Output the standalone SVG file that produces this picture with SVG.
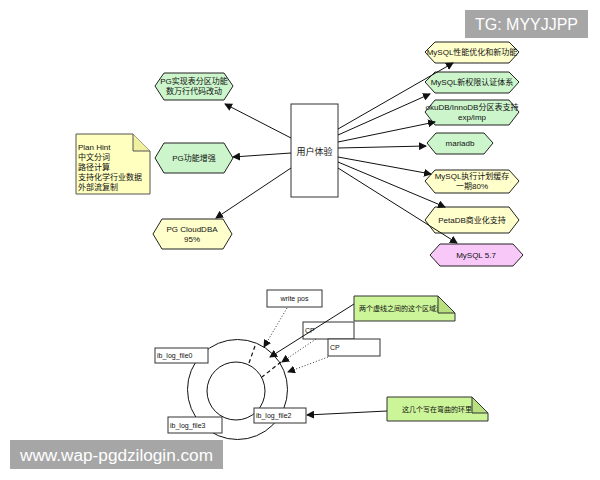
<svg xmlns="http://www.w3.org/2000/svg" width="600" height="480" viewBox="0 0 600 480">
<style>
text{font-family:"Liberation Sans","Noto Sans CJK SC",sans-serif;font-size:8px;fill:#111}
.c{text-anchor:middle}
.hy{fill:#ffffcc;stroke:#222;stroke-width:1}
.hg{fill:#ccf5cc;stroke:#222;stroke-width:1}
.hp{fill:#f8c8f8;stroke:#222;stroke-width:1}
.box{fill:#fff;stroke:#333;stroke-width:1}
.ln{stroke:#111;stroke-width:1;fill:none}
.dot{stroke:#333;stroke-width:1;stroke-dasharray:1,2;fill:none}
.dash{stroke:#111;stroke-width:1.2;stroke-dasharray:4,3;fill:none}
.ng{fill:#ccf599;stroke:#333;stroke-width:1}
.wm{fill:#a6a6a6}
.wt{fill:#fff;font-size:16px}
</style>
<defs>
<marker id="a" markerWidth="8" markerHeight="8" refX="7" refY="4" orient="auto" markerUnits="userSpaceOnUse">
<path d="M0,0 L8,4 L0,8 z" fill="#111"/>
</marker>
</defs>
<rect width="600" height="480" fill="#fff"/>

<g id="center">
<rect class="box" x="291" y="104" width="47" height="93"/>
<text class="c" x="314.5" y="155" style="font-size:9px">用户体验</text>
</g>

<g id="r1"><polygon class="hy" points="425,52 435,42 509,42 519,52 509,63 435,63"/><text class="c" x="472" y="55">MySQL性能优化和新功能</text></g>
<g id="r2"><polygon class="hg" points="425,82 435,72 509,72 519,82 509,93 435,93"/><text class="c" x="472" y="85">MySQL新权限认证体系</text></g>
<g id="r3"><polygon class="hg" points="425,112 435,100 509,100 519,112 509,125 435,125"/><text class="c" x="472" y="110">okuDB/InnoDB分区表支持</text><text class="c" x="472" y="120">exp/imp</text></g>
<g id="r4"><polygon class="hg" points="427,143 436,133 484,133 493,143 484,154 436,154"/><text class="c" x="460" y="146">mariadb</text></g>
<g id="r5"><polygon class="hy" points="425,181 435,170 509,170 519,181 509,193 435,193"/><text class="c" x="472" y="179">MySQL执行计划缓存</text><text class="c" x="472" y="189">一期80%</text></g>
<g id="r6"><polygon class="hy" points="425,220 435,207 509,207 519,220 509,233 435,233"/><text class="c" x="472" y="223">PetaDB商业化支持</text></g>
<g id="r7"><polygon class="hp" points="430,255 440,244 513,244 523,255 513,266 440,266"/><text class="c" x="476" y="258">MySQL 5.7</text></g>

<g id="l1"><polygon class="hg" points="155,86 164,73 224,73 233,86 224,100 164,100"/><text class="c" x="194" y="84">PG实现表分区功能</text><text class="c" x="194" y="94">数万行代码改动</text></g>
<g id="l2"><polygon class="hg" points="155,158 164,143 224,143 233,158 224,173 164,173"/><text class="c" x="194" y="161">PG功能增强</text></g>
<g id="l3"><polygon class="hy" points="153,234 162,219 223,219 232,234 223,249 162,249"/><text class="c" x="192" y="232">PG CloudDBA</text><text class="c" x="192" y="242">95%</text></g>

<g id="note-plan">
<polygon points="76,134 133,134 150,151 150,194 76,194" fill="#ffffc0" stroke="#555"/>
<path d="M133,134 L133,151 L150,151" fill="#f0f0a0" stroke="#555"/>
<text x="78" y="150">Plan Hint</text>
<text x="78" y="160">中文分词</text>
<text x="78" y="170">路径计算</text>
<text x="78" y="180">支持化学行业数据</text>
<text x="78" y="190">外部流复制</text>
</g>

<g id="ring">
<circle cx="237.5" cy="389.5" r="50" fill="none" stroke="#111"/>
<circle cx="236" cy="391" r="29" fill="none" stroke="#111"/>
<line class="dash" x1="255" y1="346" x2="249" y2="363"/>
<line class="dash" x1="281" y1="362" x2="262" y2="377"/>
</g>

<g id="writepos"><rect class="box" x="267" y="290" width="55" height="17"/><text class="c" x="294.5" y="301" style="font-size:7px">write pos</text></g>
<g id="cp1"><rect class="box" x="303" y="322" width="51" height="17"/><text x="305" y="333" style="font-size:7px">CP</text></g>
<g id="cp2"><rect class="box" x="328" y="339" width="52" height="17"/><text x="330" y="350" style="font-size:7px">CP</text></g>
<g id="f0"><rect class="box" x="155" y="348" width="53" height="15"/><text x="157" y="358" style="font-size:7px">ib_log_file0</text></g>
<g id="f3"><rect class="box" x="168" y="417" width="54" height="16"/><text x="170" y="428" style="font-size:7px">ib_log_file3</text></g>
<g id="f2"><rect class="box" x="254" y="408" width="52" height="15"/><text x="256" y="418" style="font-size:7px">ib_log_file2</text></g>

<g id="note1">
<polygon class="ng" points="354,296 438,296 455,313 455,321 354,321"/>
<text x="359" y="311" style="font-size:7px">两个虚线之间的这个区域浅色</text>
<path d="M438,296 L438,313 L455,313 z" fill="#b8e080" stroke="#333"/>
</g>
<g id="note2">
<polygon class="ng" points="387,397 472,397 488,413 488,421 387,421"/>
<text x="402" y="412" style="font-size:7px">这几个写在弯曲的环里面</text>
<path d="M472,397 L472,413 L488,413 z" fill="#b8e080" stroke="#333"/>
</g>

<g id="connectors">
<line class="ln" x1="338" y1="129" x2="453" y2="63" marker-end="url(#a)"/>
<line class="ln" x1="338" y1="135" x2="430" y2="94" marker-end="url(#a)"/>
<line class="ln" x1="338" y1="142" x2="435" y2="122" marker-end="url(#a)"/>
<line class="ln" x1="338" y1="148" x2="426" y2="146" marker-end="url(#a)"/>
<line class="ln" x1="338" y1="157" x2="431" y2="174" marker-end="url(#a)"/>
<line class="ln" x1="338" y1="162" x2="445" y2="207" marker-end="url(#a)"/>
<line class="ln" x1="338" y1="168" x2="457" y2="243" marker-end="url(#a)"/>
<line class="ln" x1="291" y1="138" x2="225" y2="104" marker-end="url(#a)"/>
<line class="ln" x1="291" y1="153" x2="233" y2="157" marker-end="url(#a)"/>
<line class="ln" x1="291" y1="168" x2="216" y2="218" marker-end="url(#a)"/>
<line class="dot" x1="287" y1="308" x2="264" y2="347" marker-end="url(#a)"/>
<line class="dot" x1="316" y1="339" x2="282" y2="362" marker-end="url(#a)"/>
<line class="dot" x1="328" y1="357" x2="288" y2="372" marker-end="url(#a)"/>
<line class="ln" x1="354" y1="304" x2="270" y2="357" marker-end="url(#a)"/>
<line class="ln" x1="387" y1="411" x2="307" y2="415" marker-end="url(#a)"/>
</g>

<g id="watermarks">
<rect class="wm" x="465" y="10" width="123" height="28"/>
<text class="wt" x="475" y="30" textLength="103" lengthAdjust="spacingAndGlyphs">TG: MYYJJPP</text>
<rect class="wm" x="10" y="440" width="213" height="29"/>
<text class="wt" x="20" y="461" textLength="193" lengthAdjust="spacingAndGlyphs">www.wap-pgdzilogin.com</text>
</g>
</svg>
